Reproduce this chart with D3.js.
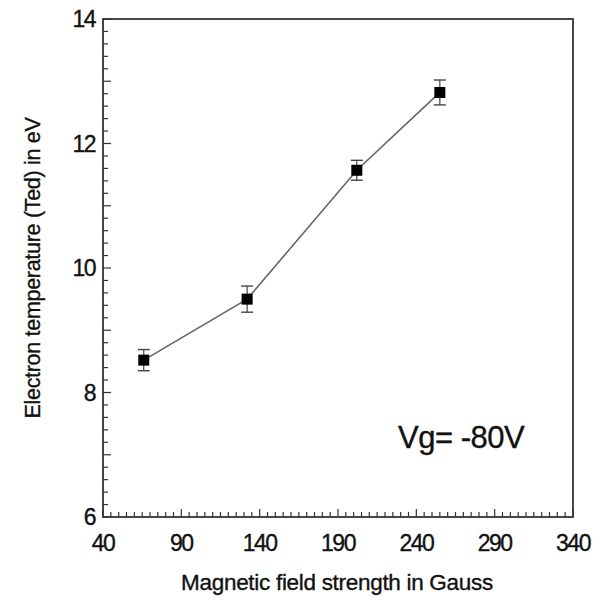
<!DOCTYPE html>
<html>
<head>
<meta charset="utf-8">
<script src="https://cdn.jsdelivr.net/npm/d3@7"></script>
<style>
  body { margin: 0; background: #fff; }
  text { font-family: "Liberation Sans", Arial, sans-serif; fill: #111; stroke: #111; stroke-width: 0.35; }
</style>
</head>
<body>
<div id="chart"></div>
<script>
// field strength (Gauss) and electron temperature (eV)
var fields = [66, 132, 202, 255];
var temps = [8.52, 9.5, 11.57, 12.82];
var errs = [0.17, 0.21, 0.16, 0.2];
var xTicks = [40, 90, 140, 190, 240, 290, 340];
var yTicks = [6, 8, 10, 12, 14];

var width = 610,
    height = 604,
    pLeft = 103, pRight = 573, pTop = 19, pBottom = 517;

var svg = d3.select('#chart')
    .append('svg')
    .attr('width', width)
    .attr('height', height);

var x = d3.scaleLinear().domain([40, 340]).range([pLeft, pRight]);
var y = d3.scaleLinear().domain([6, 14]).range([pBottom, pTop]);

// frame
svg.append('rect')
    .attr('x', pLeft).attr('y', pTop)
    .attr('width', pRight - pLeft).attr('height', pBottom - pTop)
    .attr('fill', 'none')
    .attr('stroke', '#333')
    .attr('stroke-width', 1.8);

// minor ticks, pointing inward
var yMinor = d3.range(6, 14.001, 0.2);
svg.selectAll('.ytick')
    .data(yMinor)
    .enter().append('line')
    .attr('x1', pLeft)
    .attr('x2', function(d) {
        var r = Math.round(d * 10) % 10;
        return pLeft + (r === 0 ? 8 : 5);
    })
    .attr('y1', function(d) { return y(d); })
    .attr('y2', function(d) { return y(d); })
    .attr('stroke', '#333')
    .attr('stroke-width', 1.2);

var xMinor = d3.range(40, 341, 5);
svg.selectAll('.xtick')
    .data(xMinor)
    .enter().append('line')
    .attr('x1', function(d) { return x(d); })
    .attr('x2', function(d) { return x(d); })
    .attr('y1', pBottom)
    .attr('y2', function(d) { return pBottom - ((d - 40) % 50 === 0 ? 8 : 5); })
    .attr('stroke', '#333')
    .attr('stroke-width', 1.2);

// tick labels
svg.selectAll('.ylab')
    .data(yTicks)
    .enter().append('text')
    .attr('x', pLeft - 8)
    .attr('y', function(d) { return y(d) + 8; })
    .attr('text-anchor', 'end')
    .attr('font-size', 23)
    .attr('letter-spacing', -1.5)
    .text(function(d) { return d; });

svg.selectAll('.xlab')
    .data(xTicks)
    .enter().append('text')
    .attr('x', function(d) { return x(d); })
    .attr('y', pBottom + 34)
    .attr('text-anchor', 'middle')
    .attr('font-size', 23)
    .attr('letter-spacing', -1.5)
    .text(function(d) { return d; });

// axis titles
svg.append('text')
    .attr('x', 337)
    .attr('y', 590)
    .attr('text-anchor', 'middle')
    .attr('font-size', 22.5)
    .attr('letter-spacing', -0.3)
    .text('Magnetic field strength in Gauss');

svg.append('text')
    .attr('transform', 'translate(40,268) rotate(-90)')
    .attr('text-anchor', 'middle')
    .attr('font-size', 21.5)
    .attr('letter-spacing', -0.3)
    .text('Electron temperature (Ted) in eV');

// annotation
svg.append('text')
    .attr('x', 398)
    .attr('y', 448)
    .attr('font-size', 31)
    .attr('letter-spacing', -0.5)
    .text('Vg= -80V');

// connecting line
var line = d3.line()
    .x(function(d, i) { return x(fields[i]); })
    .y(function(d) { return y(d); });

svg.append('path')
    .datum(temps)
    .attr('d', line)
    .attr('fill', 'none')
    .attr('stroke', '#666')
    .attr('stroke-width', 1.6);

// error bars
var eb = svg.selectAll('.err')
    .data(temps)
    .enter().append('g');

eb.append('line')
    .attr('x1', function(d, i) { return x(fields[i]); })
    .attr('x2', function(d, i) { return x(fields[i]); })
    .attr('y1', function(d, i) { return y(d + errs[i]); })
    .attr('y2', function(d, i) { return y(d - errs[i]); })
    .attr('stroke', '#444')
    .attr('stroke-width', 1.2);

[1, -1].forEach(function(s) {
    eb.append('line')
        .attr('x1', function(d, i) { return x(fields[i]) - 6; })
        .attr('x2', function(d, i) { return x(fields[i]) + 6; })
        .attr('y1', function(d, i) { return y(d + s * errs[i]); })
        .attr('y2', function(d, i) { return y(d + s * errs[i]); })
        .attr('stroke', '#444')
        .attr('stroke-width', 1.4);
});

// square markers
svg.selectAll('.pt')
    .data(temps)
    .enter().append('rect')
    .attr('x', function(d, i) { return x(fields[i]) - 5.5; })
    .attr('y', function(d) { return y(d) - 5.5; })
    .attr('width', 11)
    .attr('height', 11)
    .attr('fill', '#000');
</script>
</body>
</html>
